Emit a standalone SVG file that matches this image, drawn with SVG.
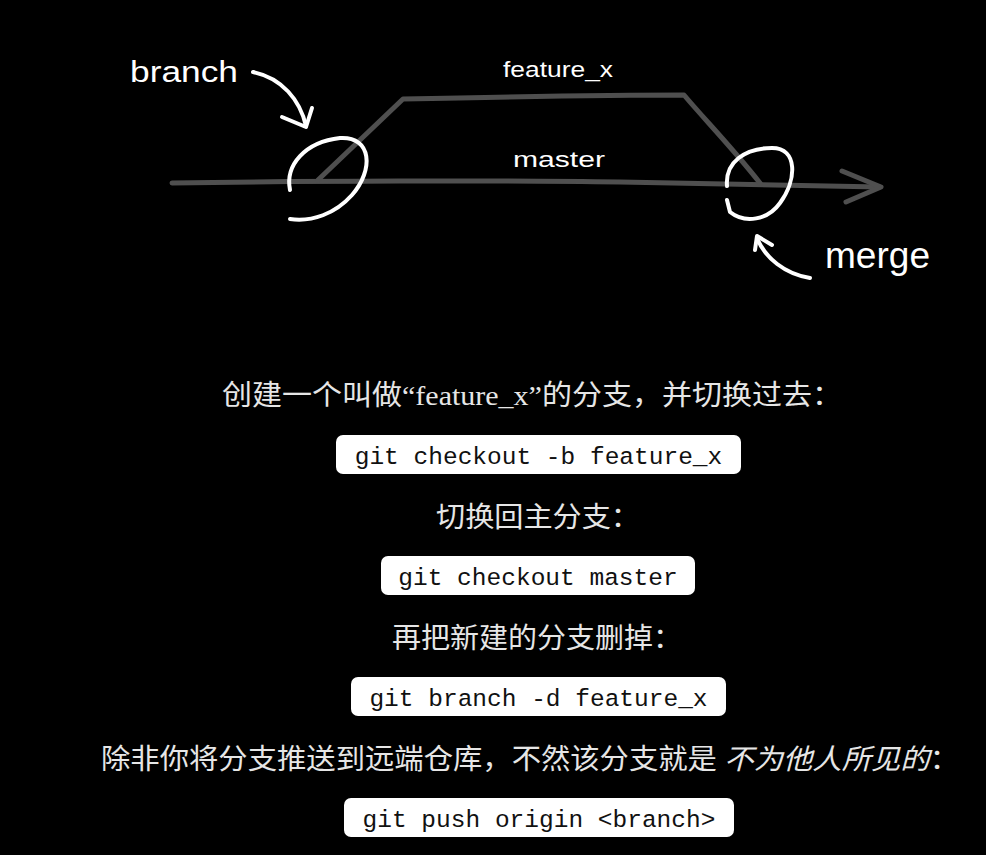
<svg xmlns="http://www.w3.org/2000/svg" width="986" height="855" viewBox="0 0 986 855">
<style>
.bg{fill:#000}
.gline{fill:none;stroke:#4f4f4f;stroke-width:5;stroke-linecap:round;stroke-linejoin:round}
.wline{fill:none;stroke:#fff;stroke-width:4;stroke-linecap:round;stroke-linejoin:round}
.hand{font-family:"Liberation Sans","DejaVu Sans",sans-serif;fill:#fff}
.cn{font-family:"Liberation Serif","Noto Sans CJK SC",serif;font-size:28px;fill:#e6e6e6;text-anchor:middle}
.box{fill:#fff}
.code{font-family:"Liberation Mono","DejaVu Sans Mono",monospace;font-size:24.5px;fill:#111;text-anchor:middle}
</style>
<rect class="bg" width="986" height="855"/>
<g id="sketch">
  <path class="gline" d="M172,183 C300,181 500,180 620,182 C720,184 800,185 880,187"/>
  <path class="gline" d="M842,171 L881,187 L846,202" stroke-width="6"/>
  <path class="gline" d="M318,180 L403,99 C500,97 600,95 684,95 C705,120 730,145 760,183"/>
  <path class="wline" d="M290,190 C285,165 305,142 340,138 C372,136 374,170 352,195 C335,214 312,222 290,219"/>
  <path class="wline" d="M727,186 C725,162 745,148 772,148 C798,148 797,180 780,203 C768,220 745,224 730,212 L727,200"/>
  <path class="wline" d="M253,72 C282,78 300,100 306,126"/>
  <path class="wline" d="M282,117 L306,127 L312,108"/>
  <path class="wline" d="M810,278 C785,274 765,258 757,238"/>
  <path class="wline" d="M755,250 L757,236 L772,245"/>
  <text class="hand" x="130" y="82" font-size="30" textLength="108" lengthAdjust="spacingAndGlyphs">branch</text>
  <text class="hand" x="503" y="77" font-size="22" textLength="110" lengthAdjust="spacingAndGlyphs">feature_x</text>
  <text class="hand" x="513" y="167" font-size="22" textLength="92" lengthAdjust="spacingAndGlyphs">master</text>
  <text class="hand" x="825" y="268" font-size="36" textLength="105" lengthAdjust="spacingAndGlyphs">merge</text>
</g>
<g id="t1"><text class="cn" x="532" y="405" textLength="620" lengthAdjust="spacingAndGlyphs">创建一个叫做“feature_x”的分支，并切换过去：</text></g>
<g id="c1"><rect class="box" x="336" y="435" width="405" height="39" rx="7"/><text class="code" x="538.5" y="464">git checkout -b feature_x</text></g>
<g id="t2"><text class="cn" x="538" y="527" textLength="204" lengthAdjust="spacingAndGlyphs">切换回主分支：</text></g>
<g id="c2"><rect class="box" x="381" y="556" width="314" height="39" rx="7"/><text class="code" x="538" y="585">git checkout master</text></g>
<g id="t3"><text class="cn" x="537" y="648" textLength="290" lengthAdjust="spacingAndGlyphs">再把新建的分支删掉：</text></g>
<g id="c3"><rect class="box" x="351" y="677" width="375" height="39" rx="7"/><text class="code" x="538.5" y="706">git branch -d feature_x</text></g>
<g id="t4"><text class="cn" x="530" y="769" textLength="858" lengthAdjust="spacingAndGlyphs">除非你将分支推送到远端仓库，不然该分支就是 <tspan font-style="italic">不为他人所见的</tspan>：</text></g>
<g id="c4"><rect class="box" x="344" y="798" width="390" height="39" rx="7"/><text class="code" x="539" y="827">git push origin &lt;branch&gt;</text></g>
</svg>
